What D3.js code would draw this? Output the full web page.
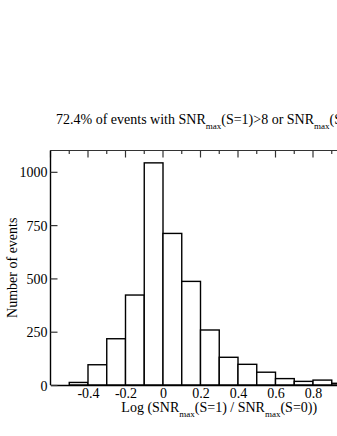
<!DOCTYPE html>
<html><head><meta charset="utf-8">
<script src="https://cdn.jsdelivr.net/npm/d3@7"></script>
<style>html,body{margin:0;padding:0;background:#fff;overflow:hidden;width:337px;height:436px}</style>
</head><body>
<script>
const binStarts = [-0.6,-0.5,-0.4,-0.3,-0.2,-0.1,0.0,0.1,0.2,0.3,0.4,0.5,0.6,0.7,0.8,0.9];
const counts    = [0,12,95,217,422,1042,711,486,258,130,97,60,30,17,23,8];
const binWidth = 0.1;
const xTickValues = [-0.4,-0.2,0,0.2,0.4,0.6,0.8];
const yTickValues = [0,250,500,750,1000];

const W = 420, H = 436;
const m = {left:50.5, top:150.5, right:388, bottom:385};
const svg = d3.select("body").append("svg").attr("width",W).attr("height",H)
  .style("font-family","'Liberation Serif','Times New Roman',serif");

const x = d3.scaleLinear().domain([-0.6,1.2]).range([m.left, m.right]);
const y = d3.scaleLinear().domain([0,1100]).range([m.bottom, m.top]);

// bars
svg.append("g").selectAll("rect").data(binStarts).join("rect")
  .attr("x", d=>x(d)).attr("width", d=>x(d+binWidth)-x(d))
  .attr("y", (d,i)=>y(counts[i])).attr("height",(d,i)=>y(0)-y(counts[i]))
  .attr("fill","#fff").attr("stroke","#000").attr("stroke-width",1.4);

// top axis with inward ticks
const minor = d3.range(-6,12).map(i=>i/10);
const gTop = svg.append("g").attr("transform",`translate(0,${m.top})`);
gTop.append("line").attr("x1",m.left).attr("x2",m.right).attr("stroke","#333").attr("stroke-width",1.2);
gTop.selectAll("line.t").data(minor).join("line").attr("class","t")
  .attr("x1",d=>x(d)).attr("x2",d=>x(d)).attr("y1",0)
  .attr("y2",(d,i)=> (Math.round(d*10)%2===0)?7:3.5)
  .attr("stroke","#333").attr("stroke-width",1.2);

// bottom axis
const gx = svg.append("g").attr("transform",`translate(0,${m.bottom})`)
  .call(d3.axisBottom(x).tickValues(xTickValues).tickSize(0).tickPadding(3)
    .tickFormat(d=> d===0 ? "0" : d3.format(".1f")(d).replace("\u2212","-")));
gx.select(".domain").attr("stroke","#000").attr("stroke-width",1.4);
gx.selectAll("text").attr("font-size",14).attr("fill","#000")
  .attr("font-family","'Liberation Serif',serif");

// left axis with inward ticks
const gy = svg.append("g").attr("transform",`translate(${m.left},0)`)
  .call(d3.axisRight(y).tickValues(yTickValues).tickSize(7).tickFormat(d3.format("d")));
gy.select(".domain").attr("stroke","#000").attr("stroke-width",1.4).attr("d",`M0,${m.top}V${m.bottom}`);
gy.selectAll(".tick line").attr("stroke","#333").attr("stroke-width",1.2);
gy.selectAll("text").attr("x",-3).attr("text-anchor","end").attr("dy","0.36em")
  .attr("font-size",14).attr("fill","#000").attr("font-family","'Liberation Serif',serif");

// y label
svg.append("text").attr("transform",`translate(17,${(m.top+m.bottom)/2}) rotate(-90)`)
  .attr("text-anchor","middle").attr("font-size",14).text("Number of events");

// x label
const xl = svg.append("text").attr("x",(m.left+m.right)/2).attr("y",411.5)
  .attr("text-anchor","middle").attr("font-size",14);
xl.append("tspan").text("Log (SNR");
xl.append("tspan").attr("font-size",9).attr("dy",5).text("max");
xl.append("tspan").attr("dy",-5).text("(S=1) / SNR");
xl.append("tspan").attr("font-size",9).attr("dy",5).text("max");
xl.append("tspan").attr("dy",-5).text("(S=0))");

// title
const tt = svg.append("text").attr("x",(m.left+m.right)/2 - 3).attr("y",123.5)
  .attr("text-anchor","middle").attr("font-size",14);
tt.append("tspan").text("72.4% of events with SNR");
tt.append("tspan").attr("font-size",9).attr("dy",5).text("max");
tt.append("tspan").attr("dy",-5).text("(S=1)>8 or SNR");
tt.append("tspan").attr("font-size",9).attr("dy",5).text("max");
tt.append("tspan").attr("dy",-5).text("(S=0)>8");
</script>
</body></html>
